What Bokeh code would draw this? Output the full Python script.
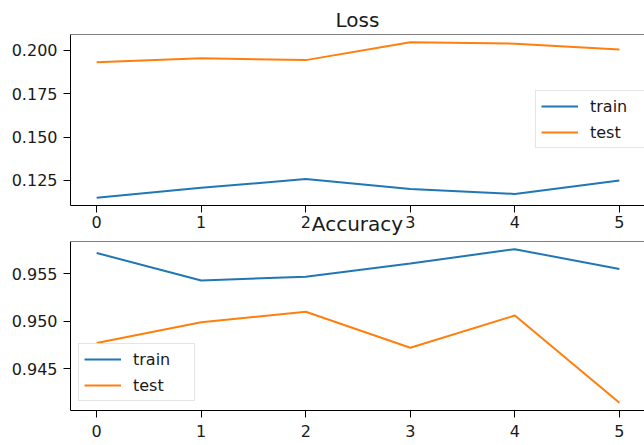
from bokeh.plotting import figure
from bokeh.layouts import column
from bokeh.models import (Range1d, FixedTicker, PrintfTickFormatter, Legend,
                          LegendItem, Span)
from bokeh.embed import file_html
from bokeh.resources import INLINE

# ---- data ----
epochs = [0, 1, 2, 3, 4, 5]
loss_train = [0.1150, 0.1207, 0.1258, 0.1200, 0.1172, 0.1250]
loss_test = [0.1932, 0.1955, 0.1944, 0.2047, 0.2039, 0.2006]
acc_train = [0.9572, 0.9543, 0.9547, 0.9561, 0.9576, 0.9555]
acc_test = [0.9477, 0.9499, 0.9510, 0.9472, 0.9506, 0.9414]
loss_ticks = [0.125, 0.150, 0.175, 0.200]
acc_ticks = [0.945, 0.950, 0.955]
x_ticks = [0, 1, 2, 3, 4, 5]
titles = ["Loss", "Accuracy"]
series_names = ["train", "test"]

BLUE = "#1f77b4"
ORANGE = "#ff7f0e"
FONT = "DejaVu Sans"
TXT = "#1a1a1a"
FRAME_H = 171


def padded(*arrs):
    vals = [v for a in arrs for v in a]
    lo, hi = min(vals), max(vals)
    m = 0.05 * (hi - lo)
    return lo - m, hi + m


def make_fig(top, bottom, y_lo, y_hi, yticks, standoff, title,
             title_standoff):
    p = figure(width=644, height=top + FRAME_H + bottom,
               output_backend="svg",
               toolbar_location=None, x_range=Range1d(-0.25, 5.24),
               y_range=Range1d(y_lo, y_hi),
               min_border_left=70, min_border_right=0,
               min_border_top=top, min_border_bottom=bottom, title=title)
    p.title.align = "center"
    p.title.text_font = FONT
    p.title.text_font_size = "20px"
    p.title.text_font_style = "normal"
    p.title.text_color = TXT
    p.title.standoff = title_standoff
    p.outline_line_color = None
    p.grid.visible = False
    p.background_fill_color = "white"
    p.border_fill_color = None
    for ax in (p.xaxis[0], p.yaxis[0]):
        ax.axis_line_color = "black"
        ax.axis_line_width = 1
        ax.major_tick_line_color = "black"
        ax.major_tick_out = 7
        ax.major_tick_in = 0
        ax.minor_tick_out = 0
        ax.minor_tick_in = 0
        ax.major_label_text_font = FONT
        ax.major_label_text_font_size = "16px"
        ax.major_label_text_color = TXT
    p.xaxis.ticker = FixedTicker(ticks=x_ticks)
    p.xaxis.major_label_standoff = standoff
    p.yaxis.ticker = FixedTicker(ticks=yticks)
    p.yaxis.formatter = PrintfTickFormatter(format="%.3f")
    p.yaxis.major_label_standoff = 6
    p.add_layout(Span(location=y_hi, dimension="width", line_color="black",
                      line_width=1))
    return p


def add_lines(p, ytr, yte, loc):
    r1 = p.line(epochs, ytr, line_color=BLUE, line_width=2)
    r2 = p.line(epochs, yte, line_color=ORANGE, line_width=2)
    lg = Legend(items=[LegendItem(label=series_names[0], renderers=[r1]),
                       LegendItem(label=series_names[1], renderers=[r2])],
                location=loc)
    lg.label_text_font = FONT
    lg.label_text_font_size = "16px"
    lg.label_text_color = TXT
    lg.border_line_color = "#cccccc"
    lg.border_line_width = 1
    lg.background_fill_color = "white"
    lg.background_fill_alpha = 0.8
    lg.glyph_width = 37
    lg.glyph_height = 20
    lg.label_height = 20
    lg.label_width = 56
    lg.label_standoff = 12
    lg.padding = 5
    lg.spacing = 6
    lg.margin = 0
    p.add_layout(lg)


lo1, hi1 = padded(loss_train, loss_test)
lo2, hi2 = padded(acc_train, acc_test)

T1, B1 = 34, 30
p1 = make_fig(T1, B1, lo1, hi1, loss_ticks, 3, titles[0], 5)
add_lines(p1, loss_train, loss_test, (465, 57))

T2, B2 = 36, 34
p2 = make_fig(T2, B2, lo2, hi2, acc_ticks, 7, titles[1], 12)
add_lines(p2, acc_train, acc_test, (8, 9))
p2.margin = (-(B1 + 2), 0, 0, 0)

layout = column(p1, p2, spacing=0)
open("out.html", "w").write(file_html(layout, INLINE))
